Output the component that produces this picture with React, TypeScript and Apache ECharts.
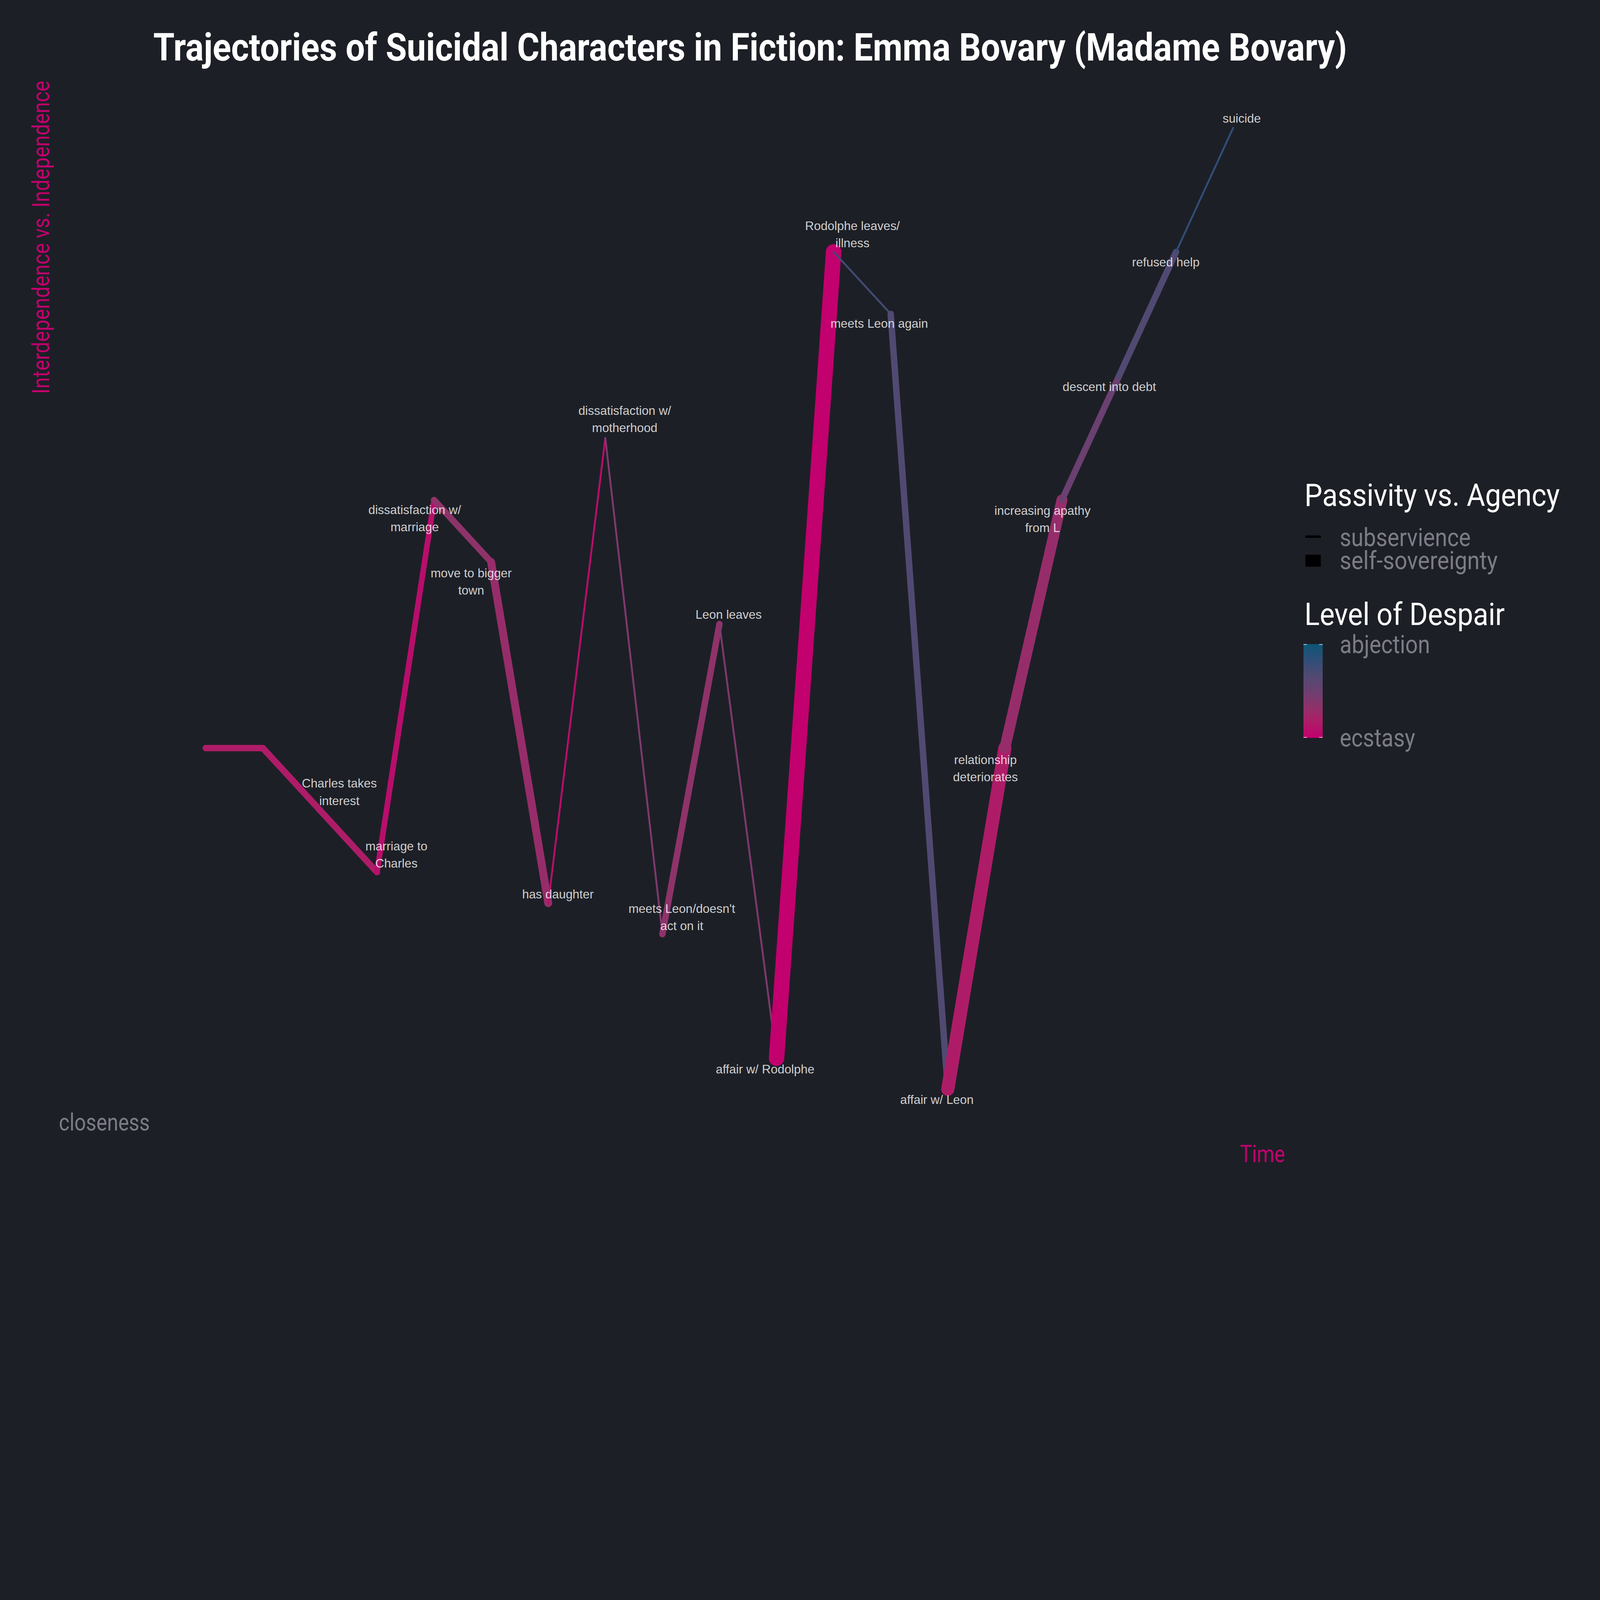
import { useEffect, useRef, useState } from "react";
import * as echarts from "echarts";

// one row per plot point, in time order
const events = [
  "",
  "",
  "Charles takes\ninterest",
  "marriage to\nCharles",
  "dissatisfaction w/\nmarriage",
  "move to bigger\ntown",
  "has daughter",
  "dissatisfaction w/\nmotherhood",
  "meets Leon/doesn't\nact on it",
  "Leon leaves",
  "affair w/ Rodolphe",
  "Rodolphe leaves/\nillness",
  "meets Leon again",
  "affair w/ Leon",
  "relationship\ndeteriorates",
  "increasing apathy\nfrom L",
  "descent into debt",
  "refused help",
  "suicide",
];
const independence = [0, 0, -1, -2, 4, 3, -2.5, 5, -3, 2, -5, 8, 7, -5.5, 0, 4, 6, 8, 10];
const despair = [2, 2, 2, 1, 4, 3.5, 1, 5, 4, 5, 0, 9, 8, 2, 3.5, 6, 8, 10, 12];
const agency = [4, 4, 4, 3.5, 4, 5, 1, 1, 4, 1, 10, 1, 4, 8.5, 7, 4, 4, 1, 1];

// label offsets from their point, in data units (x steps, y units)
const labelNudge: [number, number][] = [
  [0, 0], [0, 0],
  [0.34, 0.29], [0.34, 0.28], [-0.34, -0.3], [-0.35, -0.32],
  [0.17, 0.14], [0.34, 0.3], [0.34, 0.27], [0.16, 0.15],
  [-0.2, -0.18], [0.33, 0.28], [-0.2, -0.16], [-0.19, -0.17],
  [-0.34, -0.33], [-0.34, -0.31], [-0.17, -0.18], [-0.18, -0.17],
  [0.15, 0.15],
];

const BG = "#1d1f26";
const PINK = "#c2006e";
const GREY = "#7c7c87";
const despairRamp = ["#c2006e", "#ae1c68", "#8e336a", "#6a4070", "#504a72", "#2f4e78", "#0c5676"];
const minWidth = 7;
const maxWidth = 58;

// layout is drawn for a 6000 x 4500 page and scaled to the real window
const W = 6000;
const H = 4500;

function hexToRgb(h: string) {
  const n = parseInt(h.slice(1), 16);
  return [(n >> 16) & 255, (n >> 8) & 255, n & 255];
}

function despairColor(v: number) {
  const lo = Math.min(...despair);
  const hi = Math.max(...despair);
  const t = (v - lo) / (hi - lo);
  const n = despairRamp.length - 1;
  const i = Math.min(Math.floor(t * n), n - 1);
  const f = t * n - i;
  const a = hexToRgb(despairRamp[i]);
  const b = hexToRgb(despairRamp[i + 1]);
  const c = a.map((x, k) => Math.round(x + (b[k] - x) * f));
  return `rgb(${c[0]},${c[1]},${c[2]})`;
}

function agencyWidth(v: number) {
  const lo = Math.min(...agency);
  const hi = Math.max(...agency);
  return minWidth + ((v - lo) / (hi - lo)) * (maxWidth - minWidth);
}

// no Roboto Condensed installed: squeeze Roboto to the measured width
const measure = document.createElement("canvas").getContext("2d")!;
function squeeze(text: string, weight: string, size: number, width: number) {
  measure.font = `${weight} ${size}px Roboto`;
  return width / measure.measureText(text).width;
}

export default function App() {
  const ref = useRef<HTMLDivElement>(null);
  const [scale] = useState(() => {
    document.body.style.margin = "0";
    document.body.style.background = BG;
    document.documentElement.style.background = BG;
    return Math.min(window.innerWidth / W, window.innerHeight / H, 1);
  });

  useEffect(() => {
    if (!ref.current) return;
    const s = scale;
    const chart = echarts.init(ref.current, null, { renderer: "svg" });

    const text = (
      str: string,
      x: number,
      y: number,
      size: number,
      width: number,
      fill: string,
      align = "left",
      rotation = 0,
      weight = "normal",
    ) => ({
      type: "text",
      x: x * s,
      y: y * s,
      rotation,
      scaleX: squeeze(str, weight, size * s, width * s),
      silent: true,
      style: {
        text: str,
        fill,
        fontFamily: "Roboto",
        fontWeight: weight,
        fontSize: size * s,
        align,
        verticalAlign: "middle",
        textAlign: align,
        textVerticalAlign: "middle",
      },
    });
    const rect = (x: number, y: number, w: number, h: number, fill: unknown) => ({
      type: "rect",
      silent: true,
      shape: { x: x * s, y: y * s, width: w * s, height: h * s },
      style: { fill },
    });
    const tick = (x1: number, x2: number, y: number) => ({
      type: "line",
      silent: true,
      shape: { x1: x1 * s, y1: y * s, x2: x2 * s, y2: y * s },
      style: { stroke: "#ffffff", lineWidth: 2 * s },
    });

    const last = independence.length - 1;
    const yLo = Math.min(...independence);
    const yHi = Math.max(...independence);
    const yPad = (yHi - yLo) * 0.05;
    const xPad = last * 0.05;

    const segments = independence.slice(0, -1).map((y, i) => ({
      type: "line",
      silent: true,
      symbol: "none",
      z: 2,
      data: [
        [i, y],
        [i + 1, independence[i + 1]],
      ],
      lineStyle: {
        width: agencyWidth(agency[i]) * s,
        color: despairColor(despair[i]),
        cap: "round",
        join: "round",
      },
    }));

    const pointLabels = {
      type: "scatter",
      silent: true,
      z: 3,
      symbolSize: 1,
      itemStyle: { color: "rgba(0,0,0,0)" },
      data: events
        .map((name, i) => ({
          name,
          value: [i + labelNudge[i][0], independence[i] + labelNudge[i][1]],
        }))
        .filter((d) => d.name),
      label: {
        show: true,
        position: "inside",
        formatter: "{b}",
        color: "#ffffff",
        fontFamily: "Liberation Sans",
        fontSize: 46 * s,
        lineHeight: 65 * s,
        align: "center",
        verticalAlign: "middle",
      },
    };

    const stops = despairRamp.map((color, i) => ({
      offset: i / (despairRamp.length - 1),
      color,
    }));

    chart.setOption({
      animation: false,
      backgroundColor: BG,
      grid: {
        left: 579 * s,
        top: 299 * s,
        width: 4238 * s,
        height: 3966 * s,
        containLabel: false,
      },
      xAxis: { type: "value", min: -xPad, max: last + xPad, show: false },
      yAxis: { type: "value", min: yLo - yPad, max: yHi + yPad, show: false },
      series: [...segments, pointLabels],
      graphic: [
        text(
          "Trajectories of Suicidal Characters in Fiction: Emma Bovary (Madame Bovary)",
          575, 178, 143, 4475, "#ffffff", "left", 0, "bold",
        ),
        text("Interdependence vs. Independence", 155, 303, 89, 1174, PINK, "right", Math.PI / 2),
        text("closeness", 221, 4209, 90, 341, GREY),
        text("Time", 4819, 4327, 90, 169, PINK, "right"),

        text("Passivity vs. Agency", 4892, 1857, 118, 957, "#ffffff"),
        rect(4895, 2008, 58, 9, "#000000"),
        rect(4895, 2080, 58, 45, "#000000"),
        text("subservience", 5024, 2015, 96, 491, GREY),
        text("self-sovereignty", 5024, 2101, 96, 592, GREY),

        text("Level of Despair", 4892, 2303, 118, 751, "#ffffff"),
        rect(4888, 2415, 72, 352, new echarts.graphic.LinearGradient(0, 1, 0, 0, stops)),
        tick(4888, 4901, 2417),
        tick(4947, 4960, 2417),
        tick(4888, 4901, 2765),
        tick(4947, 4960, 2765),
        text("abjection", 5024, 2417, 96, 339, GREY),
        text("ecstasy", 5024, 2766, 96, 283, GREY),
      ],
    });

    return () => chart.dispose();
  }, [scale]);

  return <div ref={ref} style={{ width: W * scale, height: H * scale, background: BG }} />;
}
